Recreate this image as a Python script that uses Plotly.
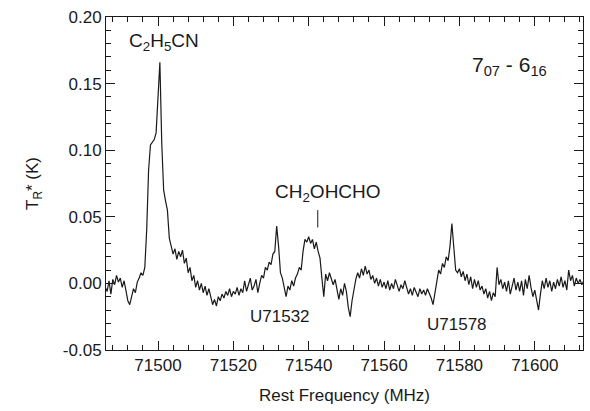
import numpy as np
import plotly.graph_objects as go

# Channel grid (MHz): start and step of the spectrometer channels
freq_start = 71486.0
freq_step = 0.5

# Antenna temperature TR* (K), one value per channel
tr = [
    -0.003, -0.006, 0.002, -0.008, 0.003, -0.001, 0.006, 0.001, 0.004, -0.003,
    0.002, -0.006, -0.013, -0.016, -0.009, -0.004, -0.007, 0.001, 0.004, 0.008,
    0.006, 0.012, 0.040, 0.085, 0.104, 0.106, 0.108, 0.113, 0.140, 0.166,
    0.105, 0.070, 0.062, 0.055, 0.034, 0.027, 0.022, 0.026, 0.018, 0.024,
    0.020, 0.025, 0.015, 0.019, 0.008, 0.012, 0.002, 0.006, -0.003, 0.002,
    -0.005, 0.000, -0.007, -0.002, -0.009, -0.004, -0.011, -0.016, -0.012, -0.017,
    -0.010, -0.013, -0.008, -0.011, -0.006, -0.009, -0.004, -0.010, -0.006, -0.008,
    -0.003, -0.009, -0.004, -0.007, 0.002, -0.006, -0.001, 0.004, -0.005, -0.002,
    0.003, -0.007, 0.000, 0.006, 0.004, 0.012, 0.010, 0.016, 0.014, 0.022,
    0.024, 0.043, 0.028, 0.008, 0.004, -0.004, -0.010, -0.002, -0.005, 0.002,
    -0.002, 0.004, 0.007, 0.012, 0.010, 0.024, 0.033, 0.031, 0.035, 0.030,
    0.033, 0.026, 0.031, 0.024, 0.019, 0.004, -0.010, 0.007, 0.002, 0.008,
    0.004, -0.001, 0.003, -0.005, -0.012, -0.004, -0.009, 0.000, -0.006, -0.018,
    -0.025, -0.013, -0.004, 0.003, 0.008, 0.004, 0.011, 0.006, 0.013, 0.007,
    0.010, 0.003, 0.006, 0.000, 0.004, -0.002, 0.003, -0.003, 0.001, -0.004,
    0.002, -0.005, 0.000, -0.004, 0.003, -0.002, -0.006, -0.001, -0.004, 0.002,
    -0.003, -0.008, -0.004, -0.009, -0.003, -0.007, -0.010, -0.004, -0.008, -0.005,
    -0.009, -0.004, -0.007, -0.011, -0.016, -0.006, 0.004, 0.010, 0.007, 0.015,
    0.012, 0.020, 0.017, 0.028, 0.045, 0.030, 0.010, 0.008, 0.011, 0.005,
    0.009, 0.002, 0.007, -0.001, 0.005, -0.004, 0.003, -0.003, 0.002, -0.005,
    -0.002, -0.008, -0.004, -0.011, -0.006, -0.013, -0.007, -0.010, 0.012, -0.001,
    0.003, -0.004, 0.001, -0.006, 0.002, -0.008, -0.002, 0.004, -0.005, 0.001,
    -0.006, 0.002, -0.009, 0.003, -0.004, 0.006, -0.003, -0.010, -0.005, -0.012,
    -0.020, -0.008, 0.002, -0.004, 0.004, -0.003, 0.002, -0.006, 0.001, -0.004,
    0.003, -0.002, 0.005, -0.003, 0.002, -0.005, 0.010, 0.002, 0.006, -0.002,
    0.004, 0.000, 0.003, -0.001, 0.002,
]
freq = freq_start + freq_step * np.arange(len(tr))

x_tickvals = [71500, 71520, 71540, 71560, 71580, 71600]
x_ticktext = ["71500", "71520", "71540", "71560", "71580", "71600"]
y_tickvals = [-0.05, 0.00, 0.05, 0.10, 0.15, 0.20]
y_ticktext = ["-0.05", "0.00", "0.05", "0.10", "0.15", "0.20"]

# Line labels: (frequency, TR*, text, font size)
labels_f = [71501.5, 71545.2, 71532.3, 71579.3, 71593.3]
labels_t = [0.181, 0.068, -0.025, -0.031, 0.163]
labels_txt = ["C<sub>2</sub>H<sub>5</sub>CN", "CH<sub>2</sub>OHCHO", "U71532",
              "U71578", "7<sub>07</sub> - 6<sub>16</sub>"]
labels_size = [19, 19, 17, 17, 21]
marker_f = 71542.4
marker_t = [0.042, 0.055]

FONT = "Liberation Sans, Arial, sans-serif"
INK = "#1a1a1a"

fig = go.Figure()
fig.add_trace(go.Scatter(x=freq, y=tr, mode="lines",
                         line=dict(color=INK, width=1.2), showlegend=False,
                         hoverinfo="skip"))
fig.add_trace(go.Scatter(x=[marker_f, marker_f], y=marker_t, mode="lines",
                         line=dict(color=INK, width=1), showlegend=False,
                         hoverinfo="skip"))

for f, t, s, sz in zip(labels_f, labels_t, labels_txt, labels_size):
    fig.add_annotation(x=f, y=t, text=s, showarrow=False,
                       font=dict(family=FONT, size=sz, color=INK),
                       xanchor="center", yanchor="middle")

axis_common = dict(
    showgrid=False, zeroline=False, showline=True, linecolor=INK, linewidth=1,
    mirror="allticks", ticks="inside", ticklen=9, tickwidth=1, tickcolor=INK,
    tickfont=dict(family=FONT, size=17, color=INK),
)

fig.update_xaxes(
    range=[71486.2, 71612.8], tickmode="array", tickvals=x_tickvals,
    ticktext=x_ticktext,
    minor=dict(ticks="inside", ticklen=5, tickwidth=1, tickcolor=INK,
               dtick=4, tick0=71500),
    title=dict(text="Rest Frequency (MHz)", font=dict(family=FONT, size=17, color=INK),
               standoff=14),
    **axis_common,
)
fig.update_yaxes(
    range=[-0.05, 0.20], tickmode="array", tickvals=y_tickvals,
    ticktext=y_ticktext,
    minor=dict(ticks="inside", ticklen=5, tickwidth=1, tickcolor=INK,
               dtick=0.01, tick0=0),
    title=dict(text="T<sub>R</sub>* (K)", font=dict(family=FONT, size=17, color=INK),
               standoff=19),
    **axis_common,
)

fig.update_layout(
    width=590, height=411,
    margin=dict(l=106, r=7, t=17, b=61),
    paper_bgcolor="white", plot_bgcolor="white",
    font=dict(family=FONT, size=17, color=INK),
)

fig.write_html("out.html")
